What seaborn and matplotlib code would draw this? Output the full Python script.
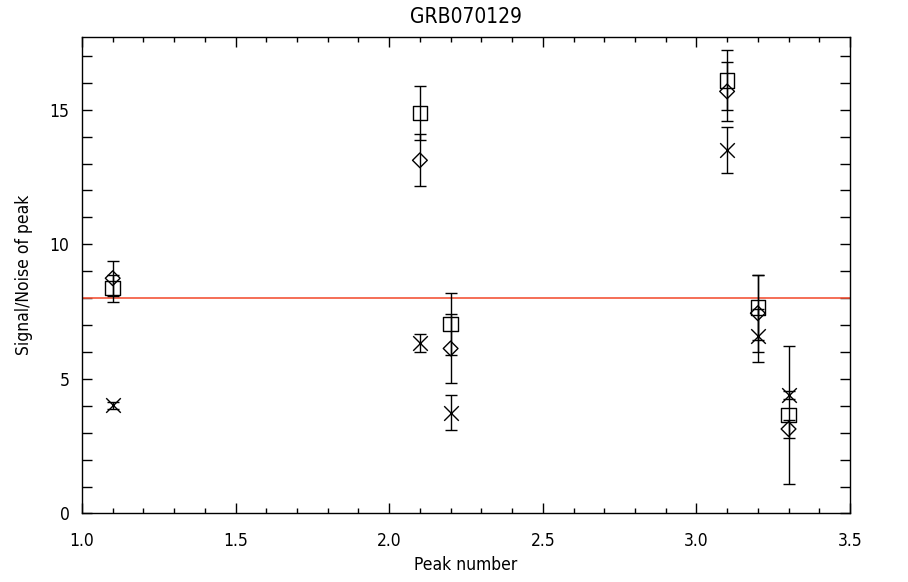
import numpy as np
import pandas as pd
import matplotlib
matplotlib.use("Agg")
import matplotlib.pyplot as plt
from matplotlib import font_manager as fm
from matplotlib.ticker import MultipleLocator, FormatStrFormatter
import seaborn as sns

# ---- data ----
peaks = [1.1, 2.1, 2.2, 3.1, 3.2, 3.3]
square_sn = [8.37, 14.88, 7.04, 16.09, 7.65, 3.66]
square_err = [0.50, 1.00, 1.15, 1.11, 1.20, 2.57]
diamond_sn = [8.74, 13.12, 6.13, 15.68, 7.44, 3.14]
diamond_err = [0.65, 0.97, 1.29, 1.10, 1.43, 0.32]
cross_sn = [4.02, 6.33, 3.75, 13.49, 6.60, 4.40]
cross_err = [0.13, 0.32, 0.65, 0.86, 0.98, 0.14]
threshold = 8.0
title = "GRB070129"
xlabel = "Peak number"
ylabel = "Signal/Noise of peak"

sns.set_style("white")

# choose a narrow font if one is available
family = "DejaVu Sans"
stretch = "normal"
for fam in ["Liberation Sans Narrow", "DejaVu Sans"]:
    try:
        path = fm.findfont(fm.FontProperties(family=fam, stretch="condensed"), fallback_to_default=False)
        if "Narrow" in path or "Condensed" in path:
            family = fam
            stretch = "condensed"
            break
    except Exception:
        pass
plt.rcParams["font.family"] = [family]
plt.rcParams["font.stretch"] = stretch

fig = plt.figure(figsize=(9.08, 5.82), dpi=100)
ax = fig.add_axes([0.0903, 0.1177, 0.8458, 0.8187])

series = [
    ("square", square_sn, square_err, "s", 10.5),
    ("diamond", diamond_sn, diamond_err, "D", 7.5),
    ("cross", cross_sn, cross_err, "x", 10.5),
]
for name, vals, errs, mk, ms in series:
    df = pd.DataFrame({"peak": peaks, "sn": vals})
    ax.errorbar(df["peak"], df["sn"], yerr=errs, fmt="none", ecolor="black",
                elinewidth=1.0, capsize=4, capthick=1.0, zorder=2)
    if mk == "x":
        sns.scatterplot(data=df, x="peak", y="sn", marker=mk, s=ms**2, color="black",
                        linewidth=1.0, ax=ax, zorder=3, legend=False)
    else:
        sns.scatterplot(data=df, x="peak", y="sn", marker=mk, s=ms**2, facecolor="none",
                        edgecolor="black", linewidth=1.0, ax=ax, zorder=3, legend=False)

ax.axhline(threshold, color="#f4553a", lw=1.2, zorder=1)

ax.set_xlim(1.0, 3.5)
ax.set_ylim(0, 17.7)
ax.xaxis.set_major_locator(MultipleLocator(0.5))
ax.xaxis.set_minor_locator(MultipleLocator(0.1))
ax.yaxis.set_major_locator(MultipleLocator(5))
ax.yaxis.set_minor_locator(MultipleLocator(1))
ax.xaxis.set_major_formatter(FormatStrFormatter("%.1f"))

ax.tick_params(axis="both", which="both", direction="in",
               top=True, right=True, bottom=True, left=True,
               color="black", width=1.0, labelsize=12.5, labelcolor="black")
ax.tick_params(axis="x", which="major", length=7, pad=13)
ax.tick_params(axis="x", which="minor", length=3.5)
ax.tick_params(axis="y", which="both", length=7, pad=9)
for sp in ax.spines.values():
    sp.set_color("black")
    sp.set_linewidth(1.0)
    sp.set_visible(True)

ax.set_title(title, fontsize=15, color="black", pad=10)
ax.set_xlabel(xlabel, fontsize=12.5, color="black", labelpad=5)
ax.set_ylabel(ylabel, fontsize=12.5, color="black", labelpad=12)
ax.set_facecolor("white")
fig.patch.set_facecolor("white")

fig.savefig("out.png", dpi=100)
